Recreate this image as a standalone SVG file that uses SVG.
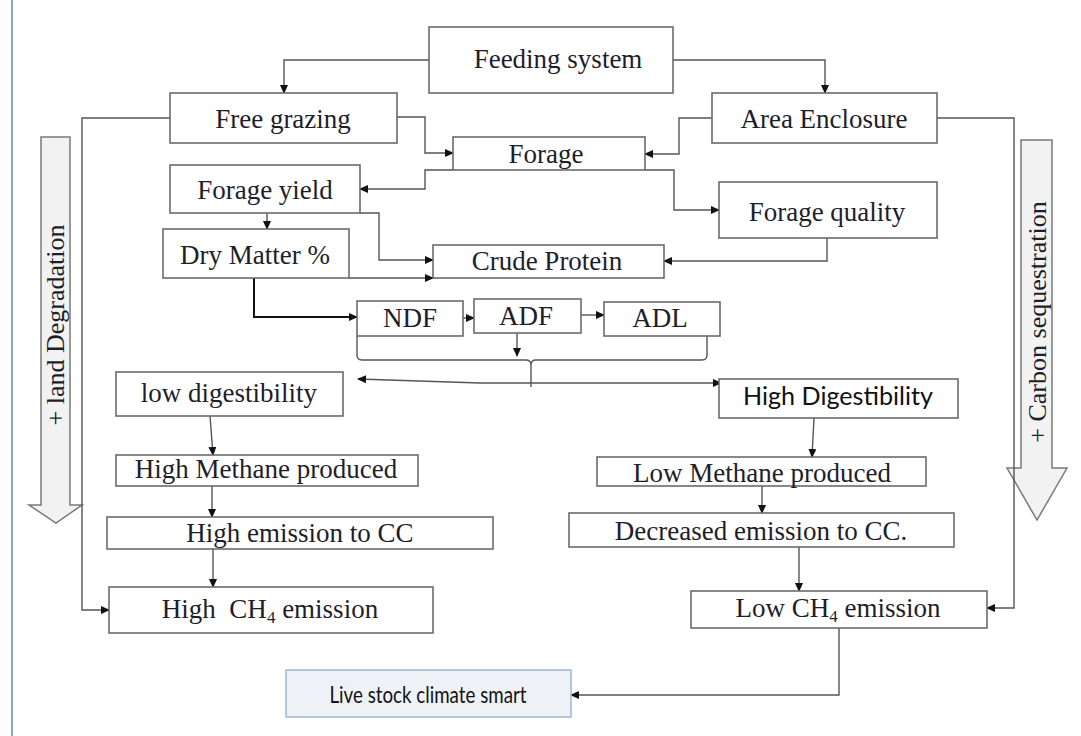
<svg xmlns="http://www.w3.org/2000/svg" width="1081" height="736" viewBox="0 0 1081 736">
<defs>
<marker id="ah" markerUnits="userSpaceOnUse" markerWidth="9" markerHeight="8" refX="8" refY="4" orient="auto">
<path d="M0,0 L9,4 L0,8 z" fill="#111"/>
</marker>
<style>
.box{fill:#fff;stroke:#6b6b6b;stroke-width:1.6}
.t{font-family:"Liberation Serif","Times New Roman",serif;font-size:27px;fill:#1e1e2a;text-anchor:middle}
.s{font-family:Lato,"Liberation Sans",sans-serif;fill:#111;text-anchor:middle}
.c{fill:none;stroke:#555;stroke-width:1.4;marker-end:url(#ah)}
.n{fill:none;stroke:#555;stroke-width:1.4}
.big{fill:#f2f2f2;stroke:#7a7a7a;stroke-width:1.5}
.sub{font-size:17px}
</style>
</defs>
<rect width="1081" height="736" fill="#fff"/>
<line x1="12" y1="0" x2="12" y2="736" stroke="#8ea4c4" stroke-width="2"/>

<g id="land-degradation">
<path class="big" d="M41,137 L70,137 L70,505 L82,505 L56,523 L29,505 L41,505 Z"/>
<text class="t" style="font-size:26px" transform="translate(64,325) rotate(-90)">+ land Degradation</text>
</g>
<g id="carbon-sequestration">
<path class="big" d="M1021,140 L1052,140 L1052,468 L1067,468 L1037,520 L1007,468 L1021,468 Z"/>
<text class="t" style="font-size:26px" transform="translate(1046,322) rotate(-90)">+ Carbon sequestration</text>
</g>

<g id="connectors">
<polyline class="c" points="429,60 284,60 284,93"/>
<polyline class="c" points="673,60 825,60 825,93"/>
<polyline class="c" points="397,117 425,117 425,153 453,153"/>
<polyline class="c" points="712,118 679,118 679,154 645,154"/>
<polyline class="c" points="453,170 425,170 425,189 360,189"/>
<polyline class="c" points="645,170 674,170 674,210 719,210"/>
<polyline class="c" points="267,213 267,229"/>
<polyline class="c" points="360,213 379,213 379,260 433,260"/>
<polyline class="c" points="349,278 433,278"/>
<polyline class="c" points="827,238 827,261 664,261"/>
<polyline class="c" style="stroke:#111;stroke-width:2" points="254,278 254,317 357,317"/>
<polyline class="c" points="463,318 474,318"/>
<polyline class="c" points="581,315 604,315"/>
<polyline class="c" points="517,323 517,356"/>
<path class="n" d="M357,336 V355 Q357,360 362,360 H526 Q531,360 531,365 Q531,360 536,360 H702 Q707,360 707,355 V336"/>
<line class="n" x1="531" y1="365" x2="531" y2="387"/>
<polyline class="c" points="531,383 480,383 358,379"/>
<polyline class="c" points="531,383 721,383"/>
<polyline class="c" points="210,416 213,455"/>
<polyline class="c" points="212,486 212,517"/>
<polyline class="c" points="213,545 213,587"/>
<polyline class="c" points="170,118 82,118 82,610 109,610"/>
<polyline class="c" points="937,118 1014,118 1014,608 987,608"/>
<polyline class="c" points="814,418 812,457"/>
<polyline class="c" points="762,486 762,513"/>
<polyline class="c" points="799,547 799,591"/>
<polyline class="c" points="839,628 839,695 571,695"/>
</g>

<g id="feeding-system"><rect class="box" x="429" y="27" width="244" height="66"/><text class="t" x="558" y="68">Feeding system</text></g>
<g id="free-grazing"><rect class="box" x="170" y="93" width="227" height="50"/><text class="t" x="283" y="128">Free grazing</text></g>
<g id="area-enclosure"><rect class="box" x="712" y="93" width="225" height="50"/><text class="t" x="824" y="128">Area Enclosure</text></g>
<g id="forage"><rect class="box" x="453" y="137" width="192" height="33"/><text class="t" x="546" y="163">Forage</text></g>
<g id="forage-yield"><rect class="box" x="170" y="165" width="190" height="48"/><text class="t" x="265" y="199">Forage yield</text></g>
<g id="forage-quality"><rect class="box" x="719" y="182" width="218" height="56"/><text class="t" x="827" y="221">Forage quality</text></g>
<g id="dry-matter"><rect class="box" x="163" y="229" width="186" height="49"/><text class="t" x="255" y="264">Dry Matter %</text></g>
<g id="crude-protein"><rect class="box" x="433" y="245" width="231" height="33"/><text class="t" x="547" y="270">Crude Protein</text></g>
<g id="ndf"><rect class="box" x="357" y="301" width="106" height="35"/><text class="t" x="410" y="327">NDF</text></g>
<g id="adf"><rect class="box" x="474" y="299" width="107" height="34"/><text class="t" x="526" y="325">ADF</text></g>
<g id="adl"><rect class="box" x="604" y="302" width="116" height="34"/><text class="t" x="660" y="327">ADL</text></g>
<g id="low-digestibility"><rect class="box" x="116" y="372" width="227" height="44"/><text class="t" x="229" y="402">low digestibility</text></g>
<g id="high-methane"><rect class="box" x="116" y="455" width="302" height="31"/><text class="t" x="266" y="478">High Methane produced</text></g>
<g id="high-emission-cc"><rect class="box" x="107" y="517" width="386" height="32"/><text class="t" x="300" y="542">High emission to CC</text></g>
<g id="high-ch4"><rect class="box" x="109" y="587" width="324" height="46"/><text class="t" x="270" y="618" xml:space="preserve">High  CH<tspan class="sub" dy="5">4</tspan><tspan dy="-5"> emission</tspan></text></g>
<g id="high-digestibility"><rect class="box" x="719" y="379" width="239" height="39"/><text class="s" x="838" y="405" style="font-size:25px" textLength="190" lengthAdjust="spacingAndGlyphs">High Digestibility</text></g>
<g id="low-methane"><rect class="box" x="597" y="457" width="329" height="29"/><text class="t" x="762" y="482">Low Methane produced</text></g>
<g id="decreased-emission-cc"><rect class="box" x="569" y="513" width="385" height="34"/><text class="t" x="761" y="540">Decreased emission to CC.</text></g>
<g id="low-ch4"><rect class="box" x="691" y="591" width="296" height="37"/><text class="t" x="838" y="617">Low CH<tspan class="sub" dy="5">4</tspan><tspan dy="-5"> emission</tspan></text></g>
<g id="livestock-climate-smart"><rect x="286" y="670" width="285" height="47" fill="#eef2f7" stroke="#9fb6d3" stroke-width="1.5"/><text class="s" x="428" y="703" style="font-size:24px" textLength="197" lengthAdjust="spacingAndGlyphs">Live stock climate smart</text></g>
</svg>
